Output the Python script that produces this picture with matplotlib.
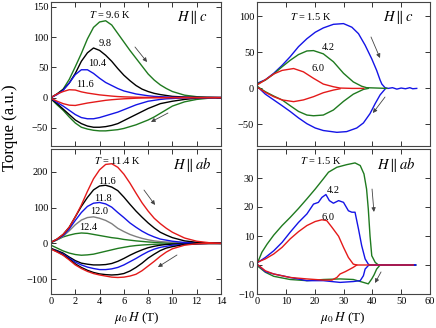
import matplotlib
matplotlib.use("Agg")
import matplotlib.pyplot as plt

plt.rcParams['font.family'] = ['Liberation Serif', 'DejaVu Serif']
plt.rcParams['mathtext.fontset'] = 'stix'

GREEN = '#1f7a1f'
BLUE = '#1414e6'
RED = '#e41a1a'
BLACK = '#000000'
GRAY = '#7f7f7f'

# ---------- field grid for low-field panels (T) ----------
x_low = [0, 0.5, 1, 1.5, 2, 2.5, 3, 3.5, 4, 4.5, 5, 5.5, 6, 6.5, 7, 7.5, 8, 8.5, 9, 9.5, 10, 11, 12, 13, 14]

# ---------- top-left: H || c, T = 9.6 ... 11.6 K ----------
c_labels = ['9.6', '9.8', '10.4', '11.6']
c96_up = [0, 6, 14, 30, 51, 73, 97, 116, 125, 127, 120, 106, 92, 78, 65, 52, 39, 29, 21, 15, 10, 4, 1.5, 0.5, 0]
c96_dn = [-2, -12, -21, -32, -42, -49, -52, -54, -55, -55, -54, -53, -51, -48, -45, -41, -37, -32, -26, -20, -14, -7, -3, -1, 0]
c98_up = [0, 6, 13, 24, 40, 60, 74, 82, 78, 70, 60, 48, 37, 28, 20, 14, 10, 7, 5, 3.5, 2, 1, 0.5, 0.2, 0]
c98_dn = [-2, -10, -19, -28, -37, -43, -47, -49, -49, -48, -46, -43, -38, -33, -28, -23, -18, -14, -10, -8, -6, -3, -1, 0, 0]
c104_up = [0, 5, 12, 24, 38, 46, 46, 40, 32, 25, 20, 15, 11, 8.5, 6, 4.5, 3, 2, 1.5, 1, 0.5, 0.3, 0, 0, 0]
c104_dn = [-1, -8, -14, -21, -28, -33, -35, -35, -33, -30, -27, -24, -20, -16, -12, -9, -6, -4.5, -3, -2, -1.5, -0.5, 0, 0, 0]
c116_up = [0, 6, 10, 13, 12.5, 9.5, 7.5, 6, 4.5, 3.5, 2.5, 1.7, 1.2, 0.9, 0.6, 0.4, 0.3, 0.2, 0.1, 0, 0, 0, 0, 0, 0]
c116_dn = [-1, -6, -10, -12.5, -13, -11, -9, -7.5, -6, -4.5, -3.5, -2.7, -2, -1.5, -1, -0.7, -0.5, -0.3, -0.2, -0.1, 0, 0, 0, 0, 0]

# ---------- bottom-left: H || ab, T = 11.4 ... 12.4 K ----------
ab_labels = ['11.4', '11.6', '11.8', '12.0', '12.4']
a114_up = [3, 12, 25, 45, 74, 107, 145, 180, 205, 220, 222, 212, 193, 168, 140, 113, 90, 70, 55, 42, 31, 15, 6, 2, 0]
a114_dn = [-16, -24, -33, -46, -60, -70, -78, -84, -88, -91, -94, -95, -94, -91, -86, -76, -63, -50, -36, -24, -15, -5, -1, 0, 0]
a116_up = [3, 12, 25, 45, 74, 103, 128, 149, 160, 162, 157, 147, 129, 109, 90, 73, 57, 43, 31, 23, 16, 7, 3, 1, 0]
a116_dn = [-15, -23, -32, -44, -57, -67, -75, -81, -85, -87, -88, -87, -84, -77, -67, -55, -41, -30, -20, -13, -9, -3, -1, 0, 0]
a118_up = [3, 11, 22, 40, 64, 86, 103, 112, 114, 110, 101, 86, 72, 57, 45, 34, 25, 18, 12, 9, 6, 2.5, 1, 0.5, 0]
a118_dn = [-15, -22, -30, -41, -52, -60, -66, -70, -73, -73, -71, -67, -60, -51, -42, -32, -23, -16, -11, -8, -5, -2, -1, 0, 0]
a120_up = [3, 10, 20, 35, 52, 65, 72, 74, 70, 64, 55, 42, 33, 25, 19, 14, 10, 7, 5, 4, 3, 1.5, 0.5, 0, 0]
a120_dn = [-14, -20, -27, -38, -48, -55, -58, -60, -60, -59, -56, -50, -42, -33, -25, -18, -12, -8, -5, -3, -2, -1, 0, 0, 0]
a124_up = [2, 10, 18, 23, 27, 29, 28, 25, 22, 19, 16, 14, 11, 9, 7, 5.5, 4, 3, 2, 1.5, 1, 0.5, 0, 0, 0]
a124_dn = [-5, -13, -21, -27, -31, -33, -32, -30, -26, -22, -18, -14, -11, -8, -6, -4.5, -3.5, -2.5, -2, -1.5, -1, -0.5, 0, 0, 0]

# ---------- top-right: H || c, high field ----------
hc_labels = ['1.5', '4.2', '6.0']
hc15_up_x = [0, 2.9, 5.8, 8.7, 11.5, 14.4, 17.3, 20.2, 23, 26.5, 30, 32.9, 35.2, 37.5, 39.8, 41.5, 42.7, 43.3, 44.4, 45.5, 47, 48.5, 50, 51.5, 53, 54, 55.4]
hc15_up_y = [7, 12, 21, 32, 44, 58, 69, 78, 84, 89, 90, 85, 76, 60, 41, 25, 11.5, 6, 1, 0, 1, -1, 0.5, -0.5, 1, -0.5, 0]
hc15_dn_x = [0, 2.9, 5.8, 8.7, 11.5, 14.4, 17.3, 20.2, 23, 27.7, 31.1, 34.6, 36.9, 39.2, 41, 42.7, 44.4]
hc15_dn_y = [3, -8, -16, -24, -32, -41, -49, -55, -58.5, -61, -60, -55, -48, -35, -21, -9, -1]
hc42_up_x = [0, 2.9, 5.8, 8.7, 11.5, 14.4, 17.3, 19.6, 23, 26.5, 30, 33.4, 36.3, 38, 45]
hc42_up_y = [6, 11.5, 20, 30, 39, 47, 52, 52.5, 48, 37, 21, 9, 3, 1, 0]
hc42_dn_x = [0, 2.9, 5.8, 8.7, 11.5, 14.4, 17.3, 19.6, 23, 26.5, 30, 33.4, 36.9, 38.6]
hc42_dn_y = [3, -4.6, -10.6, -16, -24, -32, -37, -38, -37, -30, -18, -8, -1.4, 0]
hc60_up_x = [0, 2.9, 5.8, 8.7, 12.7, 16.1, 19.6, 23, 26.5, 28.8, 33, 37]
hc60_up_y = [4.6, 12, 20, 25, 27.6, 23, 14, 6, 2.3, 0.5, 0, 0]
hc60_dn_x = [0, 2.9, 5.8, 8.7, 12.7, 16.1, 19.6, 23, 26.5, 28.8]
hc60_dn_y = [2, -5.5, -11.5, -16, -18.4, -16, -11.5, -6, -2.3, -0.5]

# ---------- bottom-right: H || ab, high field ----------
hab15_up_x = [0, 1.7, 3.5, 5.8, 8.7, 11.5, 14.4, 17.3, 20.2, 23, 24.8, 27.7, 31.1, 34, 35.8, 37.1, 38, 38.6, 39.2, 39.8, 41, 42.1, 55]
hab15_up_y = [0.3, 4.4, 7.2, 10.3, 13.6, 16.4, 19.5, 22.8, 26.2, 29.7, 32, 33.7, 34.6, 35.2, 34.3, 31.4, 26.2, 19.3, 10, 3.2, 0.9, 0, 0]
hab15_dn_x = [0, 2.9, 5.8, 11.5, 17.3, 23, 28.8, 33.4, 36.9, 38.6, 39.8, 40.6, 41.5, 42.7, 55]
hab15_dn_y = [-0.2, -2.5, -3.9, -5, -5.4, -5, -4.8, -5, -6, -6.5, -4.8, -3.4, -1.4, 0, 0]
hab42_up_x = [0, 2.9, 5.8, 8.7, 11.5, 14.4, 17.3, 19.6, 21.3, 22.5, 23.9, 25.1, 26.5, 28.3, 30, 31.7, 32.9, 34, 35.2, 36.3, 37.5, 38.6, 39.2, 55]
hab42_up_y = [0.7, 2.6, 4.9, 7.8, 11.3, 14.7, 17.6, 21, 21.6, 23.3, 24.3, 22.2, 21.3, 22.2, 21.6, 18.7, 18.2, 18.2, 12.4, 6.7, 2.1, 0.3, 0, 0]
hab42_dn_x = [0, 2.9, 5.8, 11.5, 17.3, 23, 28.8, 33.4, 35.8, 36.9, 37.5, 38.6, 39.2, 55]
hab42_dn_y = [0.3, -2.3, -3.1, -4.3, -5.4, -5.4, -6, -5.7, -5.4, -3.7, -1.4, -0.2, 0, 0]
hab60_up_x = [0, 2.9, 5.8, 8.7, 11.5, 14.4, 17.3, 20.2, 22.5, 24.2, 26, 28.3, 30, 31.7, 33.4, 34.6, 54.2]
hab60_up_y = [0.9, 2.1, 3.8, 6.1, 9, 11.5, 13.6, 15, 15.6, 15.3, 13, 9.9, 6.1, 2.6, 0.3, 0, 0]
hab60_dn_x = [0, 2.9, 5.8, 11.5, 17.3, 23, 26, 27.7, 28.8, 30.6, 32.3, 33.4, 34.6]
hab60_dn_y = [0.3, -2, -3.1, -4.3, -4.8, -5.2, -5.2, -4.3, -3.1, -2.3, -1.4, -0.8, 0]

W, H = 436, 328
fig = plt.figure(figsize=(W / 100, H / 100), dpi=100)

def mk(left, top, right, bottom):
    return fig.add_axes([left / W, (H - bottom) / H, (right - left) / W, (bottom - top) / H])

ax_tl = mk(51, 2, 221, 146)
ax_tr = mk(257, 2, 430, 146)
ax_bl = mk(51, 149, 221, 294)
ax_br = mk(257, 149, 430, 294)

LW = 1.0
# top-left
for up, dn, col in [(c96_up, c96_dn, GREEN), (c98_up, c98_dn, BLACK),
                    (c104_up, c104_dn, BLUE), (c116_up, c116_dn, RED)]:
    ax_tl.plot(x_low, up, color=col, lw=LW)
    ax_tl.plot(x_low, dn, color=col, lw=LW)
# bottom-left
for up, dn, col_up, col_dn in [(a124_up, a124_dn, GREEN, GREEN), (a120_up, a120_dn, GRAY, BLACK),
                               (a118_up, a118_dn, BLUE, BLUE), (a116_up, a116_dn, BLACK, BLACK),
                               (a114_up, a114_dn, RED, RED)]:
    ax_bl.plot(x_low, up, color=col_up, lw=LW)
    ax_bl.plot(x_low, dn, color=col_dn, lw=LW)
# top-right
for xs, ys, col in [(hc15_up_x, hc15_up_y, BLUE), (hc15_dn_x, hc15_dn_y, BLUE),
                    (hc42_up_x, hc42_up_y, GREEN), (hc42_dn_x, hc42_dn_y, GREEN),
                    (hc60_up_x, hc60_up_y, RED), (hc60_dn_x, hc60_dn_y, RED)]:
    ax_tr.plot(xs, ys, color=col, lw=LW)
# bottom-right
for xs, ys, col in [(hab15_up_x, hab15_up_y, GREEN), (hab15_dn_x, hab15_dn_y, GREEN),
                    (hab42_up_x, hab42_up_y, BLUE), (hab42_dn_x, hab42_dn_y, BLUE),
                    (hab60_up_x, hab60_up_y, RED), (hab60_dn_x, hab60_dn_y, RED)]:
    ax_br.plot(xs, ys, color=col, lw=LW)

# axes limits and ticks
ax_tl.set_xlim(0, 14); ax_tl.set_ylim(-80, 158)
ax_bl.set_xlim(0, 14); ax_bl.set_ylim(-141, 263)
ax_tr.set_xlim(0, 60); ax_tr.set_ylim(-80, 120)
ax_br.set_xlim(0, 60); ax_br.set_ylim(-10, 40)
ax_tl.set_xticks(range(0, 15, 2)); ax_bl.set_xticks(range(0, 15, 2))
ax_tr.set_xticks(range(0, 61, 10)); ax_br.set_xticks(range(0, 61, 10))
ax_tl.set_yticks([-50, 0, 50, 100, 150])
ax_tr.set_yticks([-50, 0, 50, 100])
ax_bl.set_yticks([-100, 0, 100, 200])
ax_br.set_yticks([-10, 0, 10, 20, 30])

for ax in (ax_tl, ax_tr, ax_bl, ax_br):
    ax.tick_params(direction='in', top=True, right=True, length=3.5, width=0.7,
                   labelsize=7.5, pad=2, colors='#333333', labelcolor='black')
    for s in ax.spines.values():
        s.set_color('#444444'); s.set_linewidth(0.8)
ax_tl.tick_params(labelbottom=False)
ax_tr.tick_params(labelbottom=False)

def lab(ax, x, y, s, size=7.5, **kw):
    ax.text(x, y, s, transform=ax.transAxes, ha='center', va='center', fontsize=size, **kw)

lab(ax_tl, 0.347, 0.91, r'$T$ = 9.6 K')
lab(ax_tl, 0.318, 0.715, c_labels[1])
lab(ax_tl, 0.27, 0.576, c_labels[2])
lab(ax_tl, 0.2, 0.424, c_labels[3])
lab(ax_tl, 0.83, 0.896, r'$H\parallel c$', size=10.5)

lab(ax_tr, 0.312, 0.896, r'$T$ = 1.5 K')
lab(ax_tr, 0.41, 0.681, hc_labels[1])
lab(ax_tr, 0.353, 0.535, hc_labels[2])
lab(ax_tr, 0.815, 0.896, r'$H\parallel c$', size=10.5)

lab(ax_bl, 0.388, 0.924, r'$T$ = 11.4 K')
lab(ax_bl, 0.329, 0.779, ab_labels[1])
lab(ax_bl, 0.306, 0.662, ab_labels[2])
lab(ax_bl, 0.282, 0.566, ab_labels[3])
lab(ax_bl, 0.218, 0.462, ab_labels[4])
lab(ax_bl, 0.83, 0.89, r'$H\parallel ab$', size=10.5)

lab(ax_br, 0.37, 0.924, r'$T$ = 1.5 K')
lab(ax_br, 0.439, 0.717, hc_labels[1])
lab(ax_br, 0.41, 0.531, hc_labels[2])
lab(ax_br, 0.803, 0.89, r'$H\parallel ab$', size=10.5)

def arrow(ax, x0, y0, x1, y1):
    ax.annotate('', xy=(x1, y1), xytext=(x0, y0), xycoords='axes fraction',
                textcoords='axes fraction',
                arrowprops=dict(arrowstyle='-|>', color='#444444', lw=0.6,
                                mutation_scale=6, shrinkA=0, shrinkB=0))

arrow(ax_tl, 0.494, 0.6875, 0.565, 0.583)
arrow(ax_tl, 0.688, 0.229, 0.588, 0.167)
arrow(ax_tr, 0.659, 0.757, 0.711, 0.611)
arrow(ax_tr, 0.74, 0.34, 0.67, 0.229)
arrow(ax_bl, 0.547, 0.717, 0.612, 0.614)
arrow(ax_bl, 0.741, 0.269, 0.629, 0.186)
arrow(ax_br, 0.665, 0.724, 0.676, 0.566)
arrow(ax_br, 0.717, 0.152, 0.682, 0.076)

fig.text(10 / W, (H - 128) / H, 'Torque (a.u.)', rotation=90, ha='center', va='center', fontsize=12)
fig.text(136.5 / W, (H - 318) / H, r'$\mu_0\, H$ (T)', ha='center', va='center', fontsize=9.5)
fig.text(343 / W, (H - 318) / H, r'$\mu_0\, H$ (T)', ha='center', va='center', fontsize=9.5)

fig.savefig('out.png', dpi=100)
